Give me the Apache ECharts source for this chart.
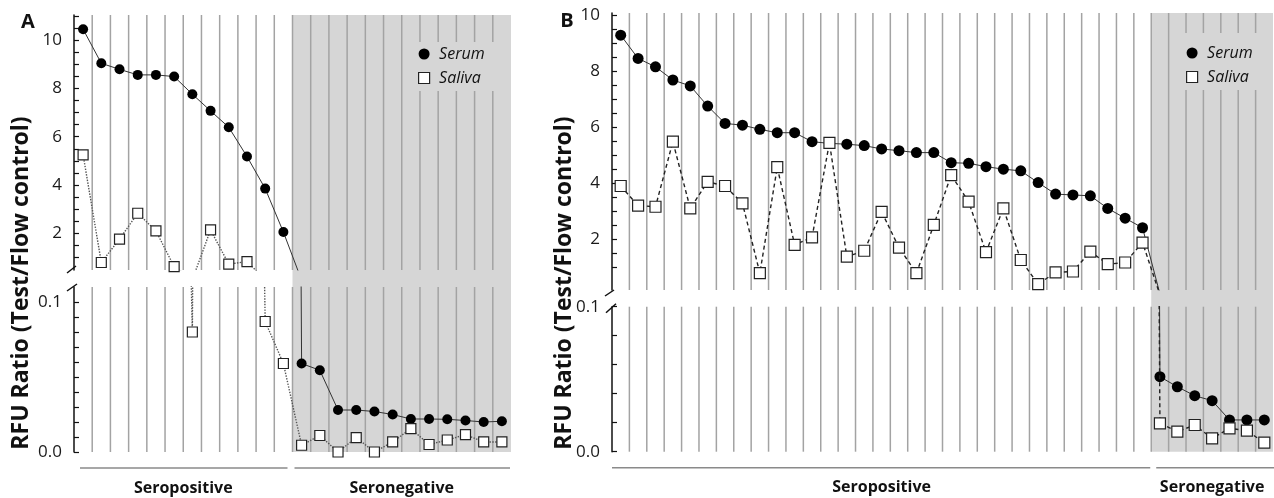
<!DOCTYPE html>
<html><head><meta charset="utf-8">
<script src="https://cdn.jsdelivr.net/npm/echarts@6/dist/echarts.min.js"></script>
<style>html,body{margin:0;padding:0;background:#fff}#c{width:1274px;height:498px}</style>
</head><body><div id="c"></div>
<script>
// ---------- DATA ----------
const groupNames = ['Seropositive', 'Seronegative'];
const A_groupSizes = [12, 12];
const A_serum = [10.45, 9.04, 8.79, 8.56, 8.56, 8.49, 7.76, 7.07, 6.39, 5.18, 3.85, 2.05,
  0.059, 0.0545, 0.028, 0.028, 0.027, 0.025, 0.022, 0.022, 0.0218, 0.021, 0.020, 0.0205];
const A_saliva = [5.25, 0.79, 1.76, 2.83, 2.10, 0.62, 0.080, 2.14, 0.72, 0.83, 0.087, 0.059,
  0.0045, 0.011, 0.0, 0.0096, 0.0, 0.0067, 0.0156, 0.005, 0.008, 0.0116, 0.0067, 0.0067];
const B_groupSizes = [31, 7];
const B_serum = [9.28, 8.45, 8.15, 7.68, 7.47, 6.75, 6.13, 6.07, 5.92, 5.80, 5.80, 5.48, 5.42, 5.39,
  5.34, 5.22, 5.16, 5.09, 5.09, 4.73, 4.71, 4.59, 4.50, 4.44, 4.02, 3.61, 3.58, 3.55, 3.10, 2.75, 2.41,
  0.0517, 0.0448, 0.0386, 0.0352, 0.0219, 0.0219, 0.0219];
const B_saliva = [3.90, 3.20, 3.16, 5.48, 3.10, 4.05, 3.90, 3.28, 0.79, 4.57, 1.80, 2.07, 5.44, 1.38,
  1.59, 2.98, 1.70, 0.79, 2.51, 4.29, 3.34, 1.54, 3.10, 1.26, 0.40, 0.82, 0.85, 1.56, 1.11, 1.17, 1.88,
  0.0196, 0.0138, 0.0184, 0.0092, 0.0161, 0.0145, 0.0062];
const upperLabels = [2, 4, 6, 8, 10];
const lowerLabels = [0, 0.1];
const A_upperTicks = [1, 1.5, 2, 2.5, 3, 3.5, 4, 4.5, 5, 5.5, 6, 6.5, 7, 7.5, 8, 8.5, 9, 9.5, 10, 10.5, 11];
const A_lowerTicks = [0, 0.01, 0.02, 0.03, 0.04, 0.05, 0.06, 0.07, 0.08, 0.09, 0.1];
const B_upperTicks = [1, 1.5, 2, 2.5, 3, 3.5, 4, 4.5, 5, 5.5, 6, 6.5, 7, 7.5, 8, 8.5, 9, 9.5, 10];
const B_lowerTicks = [0, 0.02, 0.04, 0.06, 0.08, 0.1];
const seriesNames = ['Serum', 'Saliva'];
const yTitle = 'RFU Ratio (Test/Flow control)';

// ---------- STYLE / LAYOUT ----------
const FONT = '"Open Sans", "Noto Sans", sans-serif';
const GRAY = '#d6d6d6';
const VLINE = '#a3a3a3';

const panels = [
  { serum: A_serum, saliva: A_saliva, groups: A_groupSizes,
    left: 74, width: 437,
    upper: { top: 15, height: 255, min: 0.48, max: 11.04, ticks: A_upperTicks },
    lower: { top: 287, height: 165, min: 0, max: 0.11, ticks: A_lowerTicks },
    dash: 'dotted', salivaColor: '#555', sym: 10,
    legend: { left: 416, top: 42, padding: [4, 10, 5, 2] },
    slashUp: [-7, 3, 2, -4], slashLow: [-7, 4, 3, -3],
    titleX: 21, letter: 'A', letterX: 28, letterY: 22, groupInset: [6, 5, 2, 1] },
  { serum: B_serum, saliva: B_saliva, groups: B_groupSizes,
    left: 612, width: 661,
    upper: { top: 13, height: 277, min: 0.19, max: 10.07, ticks: B_upperTicks },
    lower: { top: 306.7, height: 145, min: 0, max: 0.1, ticks: B_lowerTicks },
    dash: [4, 3], salivaColor: '#222', sym: 11,
    legend: { left: 1183, top: 33, padding: [12, 6, 5, 3] },
    slashUp: [-7, 6, 2, 0], slashLow: [-6, 6, 4, -3],
    titleX: 564, letter: 'B', letterX: 567, letterY: 21, groupInset: [0, 1, 5, -4] }
];

const option = { animation: false, grid: [], xAxis: [], yAxis: [], series: [], legend: [], graphic: [] };

panels.forEach((P, pi) => {
  const n = P.serum.length;
  const cats = P.serum.map((_, i) => String(i + 1));
  const gapPx = P.lower.top - (P.upper.top + P.upper.height);

  ['upper', 'lower'].forEach((part, k) => {
    const L = P[part];
    const gi = pi * 2 + k;
    const isLow = part === 'lower';
    option.grid.push({ left: P.left, width: P.width, top: L.top, height: L.height });
    option.xAxis.push({ type: 'category', gridIndex: gi, data: cats, boundaryGap: true, show: false });
    option.yAxis.push({
      type: 'value', gridIndex: gi, min: L.min, max: L.max,
      axisLine: { show: true, lineStyle: { color: '#111', width: 1.5 } },
      splitLine: { show: false },
      axisTick: { show: true, inside: true, length: 5, customValues: L.ticks,
        lineStyle: { color: '#111', width: 1.2 } },
      axisLabel: { show: true, customValues: isLow ? lowerLabels : upperLabels, margin: 12,
        color: '#1a1a1a', fontFamily: FONT, fontSize: 17,
        formatter: v => (isLow ? Number(v).toFixed(1) : String(Math.round(v))) }
    });

    const geom = api => {
      const bw = api.size([1, 0])[0];
      const x0 = api.coord([0, L.min])[0] - bw / 2;
      const xs = api.coord([P.groups[0], L.min])[0] - bw / 2;
      const xe = api.coord([n - 1, L.min])[0] + bw / 2;
      return { bw, x0, xs, xe, yB: api.coord([0, L.min])[1], yT: api.coord([0, L.max])[1] };
    };

    // gray zone and category separators
    option.series.push({
      type: 'custom', xAxisIndex: gi, yAxisIndex: gi, z: 1, silent: true,
      data: [[0, L.min]], encode: { x: 0, y: 1 },
      renderItem: (params, api) => {
        const g = geom(api);
        const top = isLow ? g.yT - gapPx : g.yT;
        const ch = [{ type: 'rect', shape: { x: g.xs, y: top, width: g.xe - g.xs, height: g.yB - top }, style: { fill: GRAY } }];
        for (let j = 1; j < n; j++) {
          const x = g.x0 + j * g.bw;
          ch.push({ type: 'line', shape: { x1: x, y1: g.yB, x2: x, y2: g.yT }, style: { stroke: VLINE, lineWidth: 1.5 } });
        }
        return { type: 'group', children: ch };
      }
    });

    option.series.push({
      name: seriesNames[0], type: 'line', xAxisIndex: gi, yAxisIndex: gi, z: 2, clip: true,
      data: P.serum, symbol: 'circle', symbolSize: P.sym,
      itemStyle: { color: '#000' }, lineStyle: { color: '#333', width: 1 }
    });
    option.series.push({
      name: seriesNames[1], type: 'line', xAxisIndex: gi, yAxisIndex: gi, z: 3, clip: true,
      data: P.saliva, symbol: 'rect', symbolSize: P.sym,
      itemStyle: { color: '#fff', borderColor: '#222', borderWidth: 1.2 },
      lineStyle: { color: P.salivaColor, width: 1.4, type: P.dash }
    });

    // axis break marks, group brackets and labels
    option.series.push({
      type: 'custom', xAxisIndex: gi, yAxisIndex: gi, z: 5, silent: true,
      data: [[0, L.min]], encode: { x: 0, y: 1 },
      renderItem: (params, api) => {
        const g = geom(api);
        const ax = g.x0;
        const s = { stroke: '#111', lineWidth: 1.5 };
        const ch = [];
        if (!isLow) {
          const y = g.yB, q = P.slashUp;
          ch.push({ type: 'line', shape: { x1: ax + q[0], y1: y + q[1], x2: ax + q[2], y2: y + q[3] }, style: s });
        } else {
          const y = g.yT, q = P.slashLow;
          ch.push({ type: 'line', shape: { x1: ax + q[0], y1: y + q[1], x2: ax + q[2], y2: y + q[3] }, style: s });
          const gl = { stroke: '#8a8a8a', lineWidth: 1.6 };
          const yG = g.yB + 16, yL = g.yB + 36;
          const gi4 = P.groupInset;
          const tf = 'bold 16px ' + FONT;
          ch.push({ type: 'line', shape: { x1: ax + gi4[0], y1: yG, x2: g.xs - gi4[1], y2: yG }, style: gl });
          ch.push({ type: 'line', shape: { x1: g.xs + gi4[2], y1: yG, x2: g.xe - gi4[3], y2: yG }, style: gl });
          ch.push({ type: 'text', style: { text: groupNames[0], x: (ax + g.xs) / 2, y: yL, fill: '#111', font: tf, align: 'center', verticalAlign: 'middle' } });
          ch.push({ type: 'text', style: { text: groupNames[1], x: (g.xs + g.xe) / 2, y: yL, fill: '#111', font: tf, align: 'center', verticalAlign: 'middle' } });
        }
        return { type: 'group', children: ch };
      }
    });
  });

  option.legend.push({
    left: P.legend.left, top: P.legend.top, padding: P.legend.padding, orient: 'vertical',
    backgroundColor: GRAY, itemGap: 8, itemWidth: 20, itemHeight: 11, selectedMode: false,
    textStyle: { fontStyle: 'italic', fontSize: 16, fontFamily: FONT, color: '#111' },
    data: [
      { name: seriesNames[0], icon: 'circle', itemStyle: { color: '#000', borderWidth: 0 } },
      { name: seriesNames[1], icon: 'path://M0,0H10V10H0Z', itemStyle: { color: '#fff', borderColor: '#222', borderWidth: 1.2 } }
    ]
  });

  option.graphic.push({ type: 'text', rotation: Math.PI / 2, x: P.titleX, y: 283,
    style: { text: yTitle, font: 'bold 23px ' + FONT, fill: '#111', align: 'center', verticalAlign: 'middle' } });
  option.graphic.push({ type: 'text', x: P.letterX, y: P.letterY,
    style: { text: P.letter, font: 'bold 20px ' + FONT, fill: '#111', align: 'center', verticalAlign: 'middle' } });
});

const chart = echarts.init(document.getElementById('c'));
chart.setOption(option);
</script>
</body></html>
